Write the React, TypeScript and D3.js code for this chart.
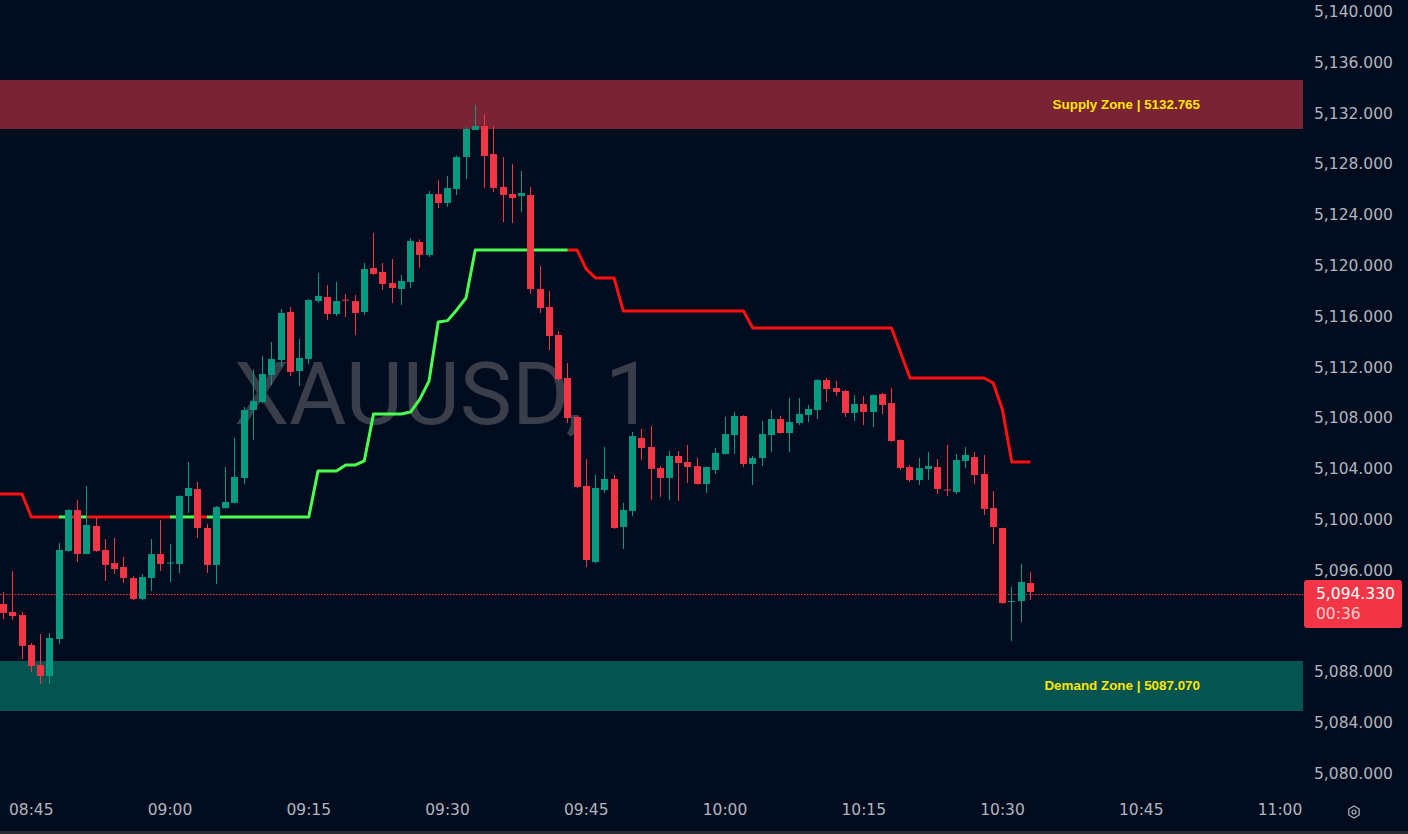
import React from 'react';
import * as d3 from 'd3';

// ---------- DATA ----------
const START_TIME = '08:42';

const opens = [
  5093.39, 5092.76, 5092.52, 5090.16, 5088.58, 5087.72, 5090.63, 5097.56, 5100.79, 5097.32,
  5099.53, 5097.64, 5096.61, 5096.30, 5095.43, 5093.78, 5095.43, 5097.32, 5096.60, 5096.54,
  5101.89, 5102.44, 5099.37, 5096.46, 5100.94, 5101.35, 5103.31, 5108.66, 5109.29, 5111.42,
  5112.60, 5116.38, 5111.73, 5112.68, 5117.24, 5117.56, 5116.22, 5117.35, 5117.24, 5116.38,
  5119.84, 5119.53, 5118.66, 5118.19, 5118.74, 5121.89, 5120.87, 5125.67, 5124.96, 5126.06,
  5128.58, 5130.71, 5131.02, 5128.82, 5126.22, 5125.67, 5125.51, 5125.59, 5118.19, 5116.77,
  5114.57, 5111.18, 5108.11, 5102.68, 5096.69, 5102.36, 5103.23, 5099.45, 5100.71, 5106.46,
  5105.75, 5104.09, 5103.31, 5105.04, 5104.57, 5104.25, 5102.83, 5103.94, 5105.20, 5106.69,
  5108.19, 5104.41, 5104.88, 5106.69, 5107.95, 5106.85, 5107.64, 5108.27, 5108.66, 5111.02,
  5110.39, 5110.16, 5108.43, 5109.13, 5108.50, 5109.92, 5109.21, 5106.30, 5104.17, 5103.15,
  5104.02, 5104.17, 5102.40, 5102.20, 5104.65, 5104.96, 5103.62, 5100.94, 5099.37, 5093.54,
  5093.62, 5095.04,
];
const highs = [
  5094.33, 5095.98, 5092.76, 5090.31, 5091.02, 5091.10, 5098.19, 5100.85, 5101.57, 5102.68,
  5100.24, 5098.50, 5098.58, 5097.09, 5095.59, 5095.75, 5098.50, 5100.00, 5098.11, 5101.95,
  5104.57, 5102.99, 5099.69, 5101.10, 5104.17, 5106.46, 5108.90, 5111.81, 5112.91, 5114.02,
  5116.61, 5116.77, 5114.25, 5117.40, 5119.45, 5118.50, 5118.74, 5117.80, 5117.72, 5120.24,
  5122.60, 5120.24, 5120.55, 5119.29, 5122.20, 5122.10, 5125.91, 5126.77, 5127.09, 5128.70,
  5130.94, 5132.68, 5131.97, 5131.02, 5128.58, 5128.03, 5127.48, 5126.22, 5120.00, 5118.03,
  5114.88, 5112.36, 5108.15, 5104.80, 5103.54, 5105.75, 5103.54, 5101.34, 5106.93, 5107.17,
  5107.40, 5104.25, 5105.43, 5105.43, 5105.91, 5104.88, 5104.20, 5105.67, 5108.11, 5108.50,
  5108.25, 5105.04, 5107.80, 5108.66, 5108.19, 5109.61, 5109.61, 5109.06, 5111.10, 5111.18,
  5110.94, 5110.24, 5109.84, 5109.76, 5109.90, 5110.00, 5110.39, 5106.35, 5104.33, 5104.88,
  5105.35, 5104.80, 5105.91, 5105.20, 5105.75, 5105.35, 5105.12, 5102.28, 5099.40, 5094.72,
  5096.54, 5095.91,
];
const lows = [
  5092.20, 5092.13, 5089.06, 5088.03, 5087.09, 5087.09, 5090.24, 5097.50, 5096.69, 5097.30,
  5097.50, 5095.20, 5095.75, 5095.04, 5093.70, 5093.70, 5094.41, 5095.98, 5095.12, 5095.83,
  5100.55, 5098.58, 5095.83, 5094.96, 5100.90, 5101.30, 5102.83, 5106.30, 5109.20, 5110.63,
  5112.05, 5111.34, 5110.55, 5112.28, 5117.09, 5115.75, 5116.06, 5115.98, 5114.57, 5116.14,
  5119.30, 5118.11, 5117.09, 5116.93, 5118.27, 5119.84, 5120.71, 5124.57, 5124.65, 5125.59,
  5126.85, 5130.70, 5126.14, 5125.83, 5123.46, 5123.38, 5124.25, 5117.80, 5116.30, 5113.39,
  5110.94, 5107.64, 5102.50, 5096.30, 5096.60, 5102.13, 5099.30, 5097.72, 5100.31, 5104.72,
  5101.57, 5101.81, 5101.57, 5101.50, 5102.91, 5102.80, 5102.13, 5103.62, 5105.15, 5105.20,
  5104.17, 5102.76, 5104.25, 5105.35, 5106.80, 5105.35, 5107.48, 5107.72, 5107.95, 5109.29,
  5109.76, 5108.11, 5107.80, 5107.48, 5107.32, 5108.35, 5106.15, 5103.94, 5102.99, 5102.76,
  5103.15, 5102.05, 5101.89, 5102.05, 5104.09, 5102.83, 5100.39, 5098.11, 5093.40, 5090.47,
  5091.97, 5093.70,
];
const closes = [
  5092.68, 5092.44, 5090.08, 5088.50, 5087.72, 5090.71, 5097.64, 5100.79, 5097.32, 5099.61,
  5097.56, 5096.46, 5096.14, 5095.43, 5093.78, 5095.51, 5097.32, 5096.54, 5096.65, 5101.89,
  5102.52, 5099.37, 5096.46, 5101.02, 5101.42, 5103.39, 5108.66, 5109.37, 5111.50, 5112.68,
  5116.30, 5111.65, 5112.76, 5117.32, 5117.64, 5116.22, 5117.24, 5117.30, 5116.30, 5119.76,
  5119.37, 5118.58, 5118.27, 5118.82, 5121.97, 5120.87, 5125.67, 5124.96, 5126.14, 5128.58,
  5130.79, 5131.02, 5128.66, 5126.14, 5125.59, 5125.35, 5125.75, 5118.19, 5116.69, 5114.49,
  5111.10, 5108.03, 5102.60, 5096.85, 5102.52, 5103.23, 5099.37, 5100.79, 5106.61, 5105.67,
  5104.02, 5103.31, 5105.04, 5104.49, 5104.17, 5102.83, 5104.17, 5105.28, 5106.77, 5108.19,
  5104.41, 5104.88, 5106.77, 5107.95, 5106.85, 5107.72, 5108.35, 5108.74, 5111.02, 5110.31,
  5110.08, 5108.43, 5109.13, 5108.50, 5109.84, 5109.06, 5106.22, 5104.09, 5103.15, 5104.09,
  5104.25, 5102.44, 5102.36, 5104.72, 5105.12, 5103.54, 5100.87, 5099.45, 5093.46, 5093.62,
  5095.12, 5094.33,
];

// trailing stop line (supertrend style)
const trendLine = [
  5102.05, 5102.05, 5102.05, 5100.24, 5100.24, 5100.24, 5100.24, 5100.24, 5100.24, 5100.24,
  5100.24, 5100.24, 5100.24, 5100.24, 5100.24, 5100.24, 5100.24, 5100.24, 5100.24, 5100.24,
  5100.24, 5100.24, 5100.24, 5100.24, 5100.24, 5100.24, 5100.24, 5100.24, 5100.24, 5100.24,
  5100.24, 5100.24, 5100.24, 5100.24, 5103.86, 5103.86, 5103.86, 5104.33, 5104.33, 5104.65,
  5108.35, 5108.35, 5108.35, 5108.35, 5108.50, 5109.50, 5110.94, 5115.59, 5115.70, 5116.54,
  5117.48, 5121.26, 5121.26, 5121.26, 5121.26, 5121.26, 5121.26, 5121.26, 5121.26, 5121.26,
  5121.26, 5121.26, 5121.26, 5119.76, 5119.06, 5119.06, 5119.06, 5116.46, 5116.46, 5116.46,
  5116.46, 5116.46, 5116.46, 5116.46, 5116.46, 5116.46, 5116.46, 5116.46, 5116.46, 5116.46,
  5116.46, 5115.12, 5115.12, 5115.12, 5115.12, 5115.12, 5115.12, 5115.12, 5115.12, 5115.12,
  5115.12, 5115.12, 5115.12, 5115.12, 5115.12, 5115.12, 5115.12, 5113.15, 5111.18, 5111.18,
  5111.18, 5111.18, 5111.18, 5111.18, 5111.18, 5111.18, 5111.18, 5110.79, 5108.66, 5104.57,
  5104.57, 5104.57,
];
// direction of each segment ending at the candle: R = bearish, G = bullish
const trendDir = (
  'RRRRRRR' + 'G' + 'R' + 'G' + 'RRRRRRRRR' + 'GGG' + 'R' +
  'GGGGGGGGGG' + 'GGGGGGGGGG' + 'GGGGGGGGGG' + 'GGGGGGGGG' +
  'RRRRRRRRRR' + 'RRRRRRRRRR' + 'RRRRRRRRRR' + 'RRRRRRRRRR' + 'RRRRRRRRRR'
).split('');

const priceTicks = [5080, 5084, 5088, 5092, 5096, 5100, 5104, 5108, 5112, 5116, 5120, 5124, 5128, 5132, 5136, 5140];
const timeTicks = ['08:45', '09:00', '09:15', '09:30', '09:45', '10:00', '10:15', '10:30', '10:45', '11:00'];

const supplyZone = [5130.79, 5134.65];
const demandZone = [5084.96, 5088.90];
const supplyLabel = 'Supply Zone | 5132.765';
const demandLabel = 'Demand Zone | 5087.070';
const symbolText = 'XAUUSD, 1';
const lastPriceText = '5,094.330';
const countdownText = '00:36';

// ---------- STYLE ----------
const BG = '#010c1f';
const UP = '#089981';
const DOWN = '#f23645';
const AXIS_TEXT = '#b2b5be';
const FONT = '"DejaVu Sans", Verdana, sans-serif';

export default function App() {
  const W = 1408;
  const H = 834;
  const plotRight = 1303;

  const parse = d3.timeParse('%H:%M');
  const t0 = parse(START_TIME) as Date;
  const times = opens.map((_, i) => d3.timeMinute.offset(t0, i));

  const x = d3.scaleTime().domain([times[0], times[times.length - 1]]).range([3.5, 1030.25]);
  const y = d3.scaleLinear().domain([5080, 5140]).range([774, 12]);

  const bodyW = 7;
  const fmtPrice = d3.format(',.3f');

  // trend line runs (first run continues from the left edge of the pane)
  const runs: { color: string; pts: [number, number][] }[] = [];
  for (let i = 1; i < trendLine.length; i++) {
    const c = trendDir[i] === 'G' ? '#4cff50' : '#ff1010';
    const p0: [number, number] = [x(times[i - 1]), y(trendLine[i - 1])];
    const p1: [number, number] = [x(times[i]), y(trendLine[i])];
    const last = runs[runs.length - 1];
    if (last && last.color === c) last.pts.push(p1);
    else runs.push({ color: c, pts: i === 1 ? [[0, y(trendLine[0])], p0, p1] : [p0, p1] });
  }
  const lineGen = d3.line<[number, number]>().x((d) => d[0]).y((d) => d[1]);

  const lastClose = closes[closes.length - 1];
  const lastY = y(lastClose);
  const boxTop = lastY - 12;
  const boxH = 48;
  const dotY = Math.round(lastY + 1.5) + 0.5;

  const hex = d3.range(6).map((k) => {
    const a = (Math.PI / 3) * k + Math.PI / 2;
    return [1354 + 6 * Math.cos(a), 812 + 6 * Math.sin(a)] as [number, number];
  });

  // price labels hidden behind the last-price box are not drawn
  const visibleTicks = priceTicks.filter((p) => {
    const yy = y(p);
    return yy < boxTop - 6 || yy > boxTop + boxH + 6;
  });

  return (
    <svg
      width={W}
      height={H}
      style={{ position: 'absolute', left: 0, top: 0, display: 'block' }}
      xmlns="http://www.w3.org/2000/svg"
    >
      <rect x={0} y={0} width={W} height={H} fill={BG} />

      {/* watermark */}
      <text
        x={444}
        y={424}
        textAnchor="middle"
        fontFamily="Roboto, sans-serif"
        fontSize={88}
        fill="#3a3e4b"
      >
        {symbolText}
      </text>

      {/* zones */}
      <rect
        x={0}
        y={y(supplyZone[1])}
        width={plotRight}
        height={y(supplyZone[0]) - y(supplyZone[1])}
        fill="#7a2335"
      />
      <rect
        x={0}
        y={y(demandZone[1])}
        width={plotRight}
        height={y(demandZone[0]) - y(demandZone[1])}
        fill="#045451"
      />

      {/* last price dotted line */}
      <line
        x1={0}
        x2={plotRight}
        y1={dotY}
        y2={dotY}
        stroke={DOWN}
        strokeWidth={1}
        strokeDasharray="1.5 1.5"
      />

      {/* trailing line */}
      {runs.map((r, i) => (
        <path
          key={'run' + i}
          d={lineGen(r.pts) || ''}
          fill="none"
          stroke={r.color}
          strokeWidth={3}
          strokeLinejoin="round"
        />
      ))}

      {/* candles */}
      {times.map((t, i) => {
        const o = opens[i];
        const c = closes[i];
        const h = highs[i];
        const l = lows[i];
        const col = c >= o ? UP : DOWN;
        const cx = x(t);
        const bx = Math.round(cx - bodyW / 2);
        const top = y(Math.max(o, c));
        const bot = y(Math.min(o, c));
        return (
          <g key={'c' + i}>
            <rect x={bx + 3} y={y(h)} width={1} height={Math.max(1, y(l) - y(h))} fill={col} />
            <rect x={bx} y={top} width={bodyW} height={Math.max(1, bot - top)} fill={col} />
          </g>
        );
      })}

      {/* zone labels */}
      <text
        x={1200}
        y={(y(supplyZone[0]) + y(supplyZone[1])) / 2}
        textAnchor="end"
        dominantBaseline="central"
        fontFamily='"Liberation Sans", Arial, sans-serif'
        fontWeight="bold"
        fontSize={13.4}
        fill="#ffe600"
      >
        {supplyLabel}
      </text>
      <text
        x={1200}
        y={(y(demandZone[0]) + y(demandZone[1])) / 2}
        textAnchor="end"
        dominantBaseline="central"
        fontFamily='"Liberation Sans", Arial, sans-serif'
        fontWeight="bold"
        fontSize={13.4}
        fill="#ffe600"
      >
        {demandLabel}
      </text>

      {/* price axis */}
      {visibleTicks.map((p) => (
        <text
          key={'p' + p}
          x={1314}
          y={y(p)}
          dominantBaseline="central"
          fontFamily={FONT}
          fontSize={15.5}
          fill={AXIS_TEXT}
        >
          {fmtPrice(p)}
        </text>
      ))}

      {/* time axis */}
      {timeTicks.map((s) => (
        <text
          key={'t' + s}
          x={x(parse(s) as Date)}
          y={810}
          textAnchor="middle"
          dominantBaseline="central"
          fontFamily={FONT}
          fontSize={15.5}
          fill={AXIS_TEXT}
        >
          {s}
        </text>
      ))}

      {/* settings icon */}
      <path d={(d3.line()(hex) || '') + 'Z'} fill="none" stroke={AXIS_TEXT} strokeWidth={1.2} />
      <circle cx={1354} cy={812} r={2} fill="none" stroke={AXIS_TEXT} strokeWidth={1.2} />

      {/* last price label */}
      <rect x={1304} y={boxTop} width={98} height={boxH} rx={3} fill={DOWN} />
      <text
        x={1316}
        y={lastY + 2}
        dominantBaseline="central"
        fontFamily={FONT}
        fontSize={15.5}
        fill="#ffffff"
      >
        {lastPriceText}
      </text>
      <text
        x={1316}
        y={lastY + 22}
        dominantBaseline="central"
        fontFamily={FONT}
        fontSize={15.5}
        fill="#ffffff"
        fillOpacity={0.75}
      >
        {countdownText}
      </text>

      {/* bottom frame */}
      <rect x={0} y={831} width={W} height={3} fill="#2a2c31" />
    </svg>
  );
}
